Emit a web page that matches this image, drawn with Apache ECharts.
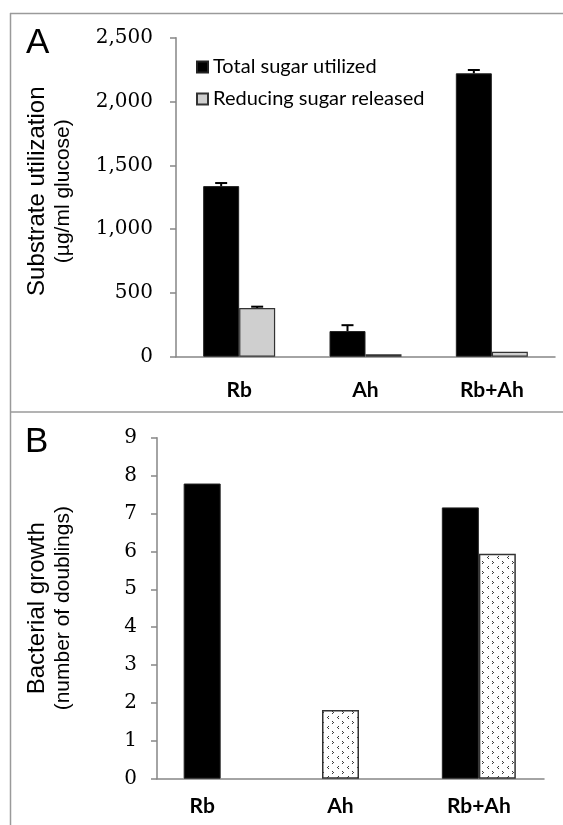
<!DOCTYPE html>
<html>
<head>
<meta charset="utf-8">
<script src="https://cdn.jsdelivr.net/npm/echarts@6/dist/echarts.min.js"></script>
<style>
html,body{margin:0;padding:0;background:#fff;}
#chart{width:563px;height:825px;}
</style>
</head>
<body>
<div id="chart"></div>
<script>
// ---------- Data ----------
const categories = ['Rb', 'Ah', 'Rb+Ah'];
// Panel A (µg/ml glucose)
const totalSugar = [1337, 201, 2221];
const totalSugarErr = [24, 46, 26];
const reducingSugar = [382, 19, 39];
const reducingSugarErr = [10, null, null];
const yTicksA = [0, 500, 1000, 1500, 2000, 2500];
// Panel B (number of doublings)
const growthRb = [7.79, null, 7.16];
const growthAh = [null, 1.81, 5.94];
const yTicksB = [0, 1, 2, 3, 4, 5, 6, 7, 8, 9];

// ---------- Styles ----------
const AXIS_COLOR = '#868686';
const TICK_FONT = 'DejaVu Serif';
const CAT_FONT = 'Lato';
const BAR_W_A = 36;
const BAR_W_B = 37;

function makePattern() {
  const c = document.createElement('canvas');
  c.width = 10; c.height = 10;
  const g = c.getContext('2d');
  g.fillStyle = '#fff'; g.fillRect(0, 0, 10, 10);
  g.fillStyle = '#3a3a3a';
  g.fillRect(2, 1, 1, 1); g.fillRect(3, 2, 1, 1); g.fillRect(2, 3, 1, 1);
  g.fillRect(8, 6, 1, 1); g.fillRect(7, 7, 1, 1); g.fillRect(8, 8, 1, 1);
  return c;
}
const dotted = { image: makePattern(), repetition: 'repeat' };

// Panel B: single bars (only one value in a category) vs paired bars
const singleRb = growthRb.map((v, i) => (v != null && growthAh[i] == null) ? v : '-');
const singleAh = growthAh.map((v, i) => (v != null && growthRb[i] == null) ? v : '-');
const pairRb = growthRb.map((v, i) => (v != null && growthAh[i] != null) ? v : '-');
const pairAh = growthAh.map((v, i) => (v != null && growthRb[i] != null) ? v : '-');

function errSeries(name, vals, errs, shift) {
  return {
    type: 'custom', name: name, xAxisIndex: 0, yAxisIndex: 0, z: 5,
    data: vals.map((v, i) => [i, v, errs[i] == null ? 0 : errs[i]]),
    renderItem: function (params, api) {
      const e = api.value(2);
      if (!e) return null;
      const base = api.coord([api.value(0), api.value(1)]);
      const top = api.coord([api.value(0), api.value(1) + e]);
      const x = base[0] + shift;
      return {
        type: 'group', children: [
          { type: 'line', shape: { x1: x, y1: base[1], x2: x, y2: top[1] }, style: { stroke: '#000', lineWidth: 2 } },
          { type: 'line', shape: { x1: x - 6, y1: top[1], x2: x + 6, y2: top[1] }, style: { stroke: '#000', lineWidth: 2 } }
        ]
      };
    }
  };
}

const yNameA = '{a|Substrate utilization}\n{b|(µg/ml glucose)}';
const yNameB = '{a|Bacterial growth}\n{b|(number of doublings)}';
const nameRich = {
  a: { fontFamily: 'Liberation Sans', fontSize: 24, lineHeight: 28, color: '#000' },
  b: { fontFamily: 'Liberation Sans', fontSize: 21, lineHeight: 25, color: '#000' }
};

const option = {
  backgroundColor: '#fff',
  animation: false,
  title: [
    { text: 'A', left: 26, top: 26, padding: 0, textStyle: { fontFamily: 'Liberation Sans', fontSize: 35, fontWeight: 'normal', color: '#000' } },
    { text: 'B', left: 25, top: 425, padding: 0, textStyle: { fontFamily: 'Liberation Sans', fontSize: 35, fontWeight: 'normal', color: '#000' } }
  ],
  graphic: [
    { type: 'line', shape: { x1: 10, y1: 13.5, x2: 563, y2: 13.5 }, style: { stroke: '#9a9a9a', lineWidth: 1.5 } },
    { type: 'line', shape: { x1: 10.5, y1: 13, x2: 10.5, y2: 825 }, style: { stroke: '#9a9a9a', lineWidth: 1.5 } },
    { type: 'line', shape: { x1: 10, y1: 412, x2: 563, y2: 412 }, style: { stroke: '#9a9a9a', lineWidth: 1.5 } }
  ],
  legend: {
    orient: 'vertical', left: 196, top: 56, padding: 0,
    itemWidth: 11, itemHeight: 11, itemGap: 10,
    icon: 'rect',
    data: ['Total sugar utilized', 'Reducing sugar released'],
    textStyle: { fontFamily: CAT_FONT, fontSize: 20, lineHeight: 22, color: '#000' }
  },
  grid: [
    { left: 176, right: 8, top: 37.7, bottom: 825 - 356.7 },
    { left: 157, right: 19, top: 437.7, bottom: 825 - 778.7 },
    { left: 133, right: 15, top: 437.7, bottom: 825 - 778.7 }
  ],
  xAxis: [
    {
      gridIndex: 0, type: 'category', data: categories,
      axisLine: { lineStyle: { color: AXIS_COLOR, width: 1.5 } },
      axisTick: { show: false },
      axisLabel: { margin: 23, fontFamily: CAT_FONT, fontWeight: 'bold', fontSize: 21, color: '#000' }
    },
    {
      gridIndex: 1, type: 'category', data: categories,
      axisLine: { lineStyle: { color: AXIS_COLOR, width: 1.5 } },
      axisTick: { show: false }, axisLabel: { show: false }
    },
    {
      gridIndex: 2, type: 'category', data: categories,
      axisLine: { show: false }, axisTick: { show: false },
      axisLabel: { margin: 17, fontFamily: CAT_FONT, fontWeight: 'bold', fontSize: 21, color: '#000' }
    },
    { gridIndex: 2, type: 'category', data: categories, position: 'bottom', show: false }
  ],
  yAxis: [
    {
      gridIndex: 0, type: 'value', min: yTicksA[0], max: yTicksA[yTicksA.length - 1], interval: yTicksA[1] - yTicksA[0],
      splitLine: { show: false },
      axisLine: { show: true, lineStyle: { color: AXIS_COLOR, width: 1.5 } },
      axisTick: { show: true, length: 6, lineStyle: { color: AXIS_COLOR, width: 1.5 } },
      axisLabel: { margin: 23, fontFamily: TICK_FONT, fontSize: 20, color: '#000', formatter: v => v.toLocaleString('en-US') },
      name: yNameA, nameLocation: 'middle', nameRotate: 90, nameGap: 100,
      nameTextStyle: { rich: nameRich, padding: [0, 0, 0, 12] }
    },
    {
      gridIndex: 1, type: 'value', min: yTicksB[0], max: yTicksB[yTicksB.length - 1], interval: yTicksB[1] - yTicksB[0],
      splitLine: { show: false },
      axisLine: { show: true, lineStyle: { color: AXIS_COLOR, width: 1.5 } },
      axisTick: { show: true, length: 6, lineStyle: { color: AXIS_COLOR, width: 1.5 } },
      axisLabel: { margin: 20, fontFamily: TICK_FONT, fontSize: 20, color: '#000' },
      name: yNameB, nameLocation: 'middle', nameRotate: 90, nameGap: 81,
      nameTextStyle: { rich: nameRich }
    },
    {
      gridIndex: 2, type: 'value', min: yTicksB[0], max: yTicksB[yTicksB.length - 1], show: false
    }
  ],
  series: [
    {
      name: 'Total sugar utilized', type: 'bar', xAxisIndex: 0, yAxisIndex: 0,
      data: totalSugar, barWidth: BAR_W_A, barGap: '0%',
      itemStyle: { color: '#000', borderColor: '#222', borderWidth: 1 }
    },
    {
      name: 'Reducing sugar released', type: 'bar', xAxisIndex: 0, yAxisIndex: 0,
      data: reducingSugar, barWidth: BAR_W_A, barGap: '0%',
      itemStyle: { color: '#cfcfcf', borderColor: '#333', borderWidth: 1.2 }
    },
    errSeries('Total sugar error', totalSugar, totalSugarErr, -BAR_W_A / 2),
    errSeries('Reducing sugar error', reducingSugar, reducingSugarErr, BAR_W_A / 2),
    {
      name: 'Rb growth', type: 'bar', xAxisIndex: 2, yAxisIndex: 2, stack: 'single',
      data: singleRb, barWidth: BAR_W_B,
      itemStyle: { color: '#000', borderColor: '#222', borderWidth: 1 }
    },
    {
      name: 'Ah growth', type: 'bar', xAxisIndex: 2, yAxisIndex: 2, stack: 'single',
      data: singleAh, barWidth: BAR_W_B,
      itemStyle: { color: dotted, borderColor: '#333', borderWidth: 1.5 }
    },
    {
      name: 'Rb growth (co-culture)', type: 'bar', xAxisIndex: 3, yAxisIndex: 2,
      data: pairRb, barWidth: BAR_W_B, barGap: '0%',
      itemStyle: { color: '#000', borderColor: '#222', borderWidth: 1 }
    },
    {
      name: 'Ah growth (co-culture)', type: 'bar', xAxisIndex: 3, yAxisIndex: 2,
      data: pairAh, barWidth: BAR_W_B, barGap: '0%',
      itemStyle: { color: dotted, borderColor: '#333', borderWidth: 1.5 }
    }
  ]
};

const chart = echarts.init(document.getElementById('chart'), null, { renderer: 'canvas' });
chart.setOption(option);
</script>
</body>
</html>
